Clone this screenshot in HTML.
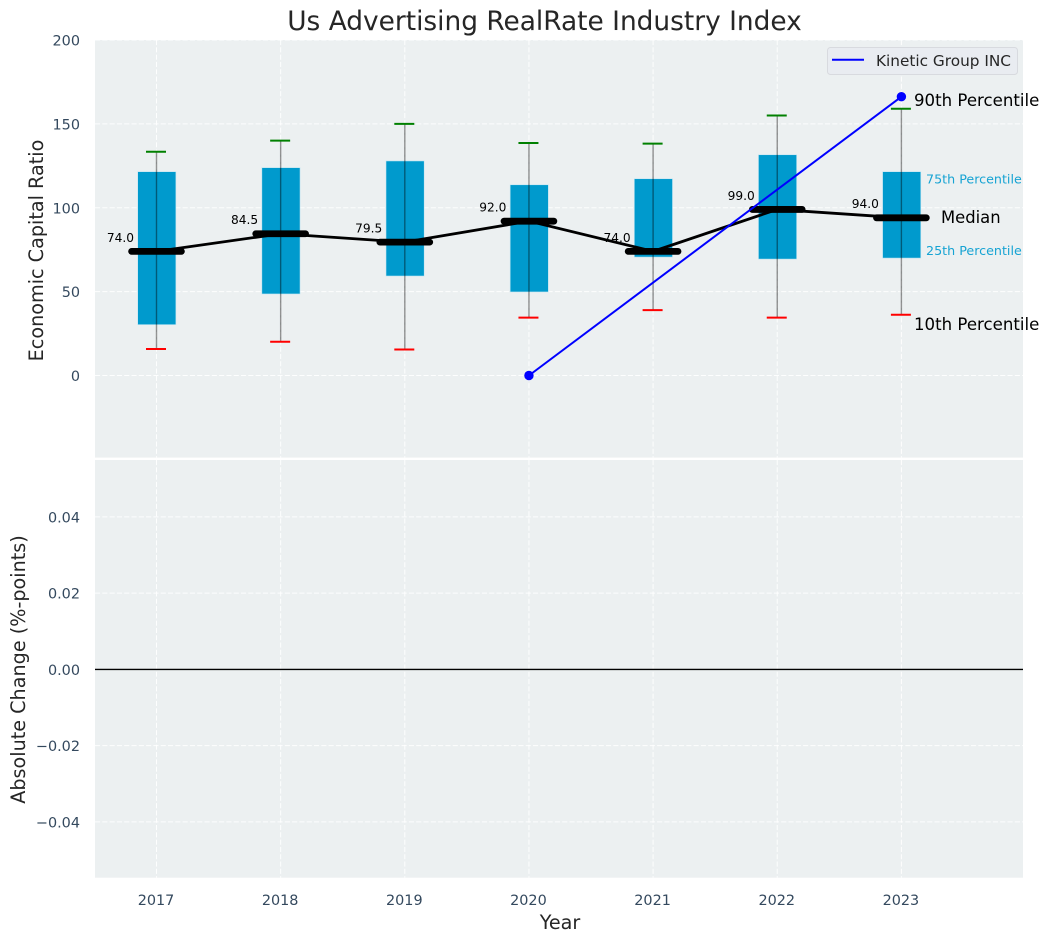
<!DOCTYPE html>
<html lang="en">
<head>
<meta charset="utf-8">
<title>Us Advertising RealRate Industry Index</title>
<style>
html,body{margin:0;padding:0;background:#fff;width:1049px;height:942px;overflow:hidden}
svg{display:block;font-family:"DejaVu Sans","Liberation Sans",sans-serif}
</style>
</head>
<body>
<svg id="chart" xmlns="http://www.w3.org/2000/svg" width="1049" height="942" viewBox="0 0 1049 942"></svg>
<script>
const years = [2017, 2018, 2019, 2020, 2021, 2022, 2023];
const p10 = [15.8, 20.1, 15.5, 34.5, 39, 34.5, 36.2];
const p25 = [30.3, 48.6, 59.3, 49.8, 70.6, 69.4, 70];
const medians = [74, 84.5, 79.5, 92, 74, 99, 94];
const p75 = [121.5, 123.9, 127.9, 113.7, 117.3, 131.6, 121.5];
const p90 = [133.4, 140, 150, 138.6, 138.2, 155, 159];
const companyYears = [2020, 2023];
const companyValues = [0, 166.2];
const topTicks = [0, 50, 100, 150, 200];
const bottomTicks = [-0.04, -0.02, 0, 0.02, 0.04];
const bottomTickLabels = ['\u22120.04', '\u22120.02', '0.00', '0.02', '0.04'];

const NS = 'http://www.w3.org/2000/svg';
const svg = document.getElementById('chart');
const X = v => 156.5 + (v - 2017) * 124.15;
const Y1 = v => 375.5 - v * 1.6775;
const Y2 = v => 669.4 - v * 3812;
const L = 95, R = 1023, T1 = 40, B1 = 457.6, T2 = 460, B2 = 877.7;

function make(tag, attrs, text) {
  const el = document.createElementNS(NS, tag);
  for (const k in attrs) el.setAttribute(k, attrs[k]);
  if (text !== undefined) el.textContent = text;
  svg.appendChild(el);
  return el;
}
let el;

el = make('rect', {x: L, y: T1, width: R - L, height: B1 - T1, fill: '#ecf0f1'});


el = make('rect', {x: L, y: T2, width: R - L, height: B2 - T2, fill: '#ecf0f1'});



const grid = {stroke: '#ffffff', 'stroke-width': 1, 'stroke-dasharray': '5.1 2.2', fill: 'none', opacity: 0.9};
topTicks.forEach(t => {
  el = make('line', {x1: L, x2: R, y1: Y1(t), y2: Y1(t), ...grid});
  
  
  el = make('text', {x: 80, y: Y1(t) + 5.5, 'text-anchor': 'end', 'font-size': 14.4, fill: '#34495e'}, String(t));
  
  
});
bottomTicks.forEach((t, i) => {
  el = make('line', {x1: L, x2: R, y1: Y2(t), y2: Y2(t), ...grid});
  
  
  el = make('text', {x: 80, y: Y2(t) + 5.5, 'text-anchor': 'end', 'font-size': 14.4, fill: '#34495e'}, bottomTickLabels[i]);
  
  
});
years.forEach(y => {
  el = make('line', {x1: X(y), x2: X(y), y1: T1, y2: B1, ...grid});
  
  
  el = make('line', {x1: X(y), x2: X(y), y1: T2, y2: B2, ...grid});
  
  
  el = make('text', {x: X(y) - 0.5, y: 905, 'text-anchor': 'middle', 'font-size': 14.4, fill: '#34495e'}, String(y));
  
  
});

years.forEach((y, i) => {
  const w = 19.1;
  el = make('rect', {x: X(y) - w + 0.3, y: Y1(p75[i]), width: 2 * w, height: Y1(p25[i]) - Y1(p75[i]), fill: '#009acd', stroke: '#c4e6f2', 'stroke-width': 0.6});
  
  
  el = make('line', {x1: X(y), x2: X(y), y1: Y1(p90[i]), y2: Y1(p10[i]), stroke: '#000000', 'stroke-opacity': 0.42, 'stroke-width': 1.4});
  
  
  el = make('line', {x1: X(y) - 10.5, x2: X(y) + 9.5, y1: Y1(p90[i]), y2: Y1(p90[i]), stroke: '#008000', 'stroke-width': 2});
  
  
  el = make('line', {x1: X(y) - 10.5, x2: X(y) + 9.5, y1: Y1(p10[i]), y2: Y1(p10[i]), stroke: '#ff0000', 'stroke-width': 2});
  
  
});

el = make('polyline', {points: years.map((y, i) => X(y) + ',' + Y1(medians[i])).join(' '), fill: 'none', stroke: '#000000', 'stroke-width': 2.8});



years.forEach((y, i) => {
  el = make('line', {x1: X(y) - 24.9, x2: X(y) + 24.9, y1: Y1(medians[i]), y2: Y1(medians[i]), stroke: '#000000', 'stroke-width': 6.8, 'stroke-linecap': 'round'});
  
  
  el = make('text', {x: X(y) - 22.5, y: Y1(medians[i]) - 9.6, 'text-anchor': 'end', 'font-size': 12.2, fill: '#000000'}, medians[i].toFixed(1));
  
  
});

el = make('polyline', {points: companyYears.map((y, i) => X(y) + ',' + Y1(companyValues[i])).join(' '), fill: 'none', stroke: '#0000ff', 'stroke-width': 2});


companyYears.forEach((y, i) => {
  el = make('circle', {cx: X(y), cy: Y1(companyValues[i]), r: 4.7, fill: '#0000ff'});
  
  
});

el = make('line', {x1: L, x2: R, y1: Y2(0), y2: Y2(0), stroke: '#000000', 'stroke-width': 1.4});



el = make('text', {x: 914, y: 106, 'font-size': 16.6, fill: '#000000'}, '90th Percentile');


el = make('text', {x: 914, y: 330, 'font-size': 16.6, fill: '#000000'}, '10th Percentile');


el = make('text', {x: 941, y: 223, 'font-size': 16.4, fill: '#000000'}, 'Median');


el = make('text', {x: 926, y: 183.3, 'font-size': 12.7, fill: '#16a3d3'}, '75th Percentile');


el = make('text', {x: 926, y: 255, 'font-size': 12.7, fill: '#16a3d3'}, '25th Percentile');



el = make('rect', {x: 827.5, y: 47.5, width: 190, height: 27, rx: 3, fill: '#e9ecf1', stroke: '#d8dadf', 'stroke-width': 1});


el = make('line', {x1: 832, x2: 864, y1: 59.8, y2: 59.8, stroke: '#0000ff', 'stroke-width': 2});


el = make('text', {x: 876, y: 66, 'font-size': 15.3, fill: '#262626'}, 'Kinetic Group INC');



el = make('text', {x: 544.5, y: 30, 'text-anchor': 'middle', 'font-size': 26.4, fill: '#262626'}, 'Us Advertising RealRate Industry Index');


el = make('text', {x: 560, y: 929, 'text-anchor': 'middle', 'font-size': 19.2, fill: '#262626'}, 'Year');


el = make('text', {transform: 'translate(43 250.5) rotate(-90)', 'text-anchor': 'middle', 'font-size': 19.2, fill: '#262626'}, 'Economic Capital Ratio');


el = make('text', {transform: 'translate(25 669.5) rotate(-90)', 'text-anchor': 'middle', 'font-size': 19.2, fill: '#262626'}, 'Absolute Change (%-points)');


</script>
</body>
</html>
